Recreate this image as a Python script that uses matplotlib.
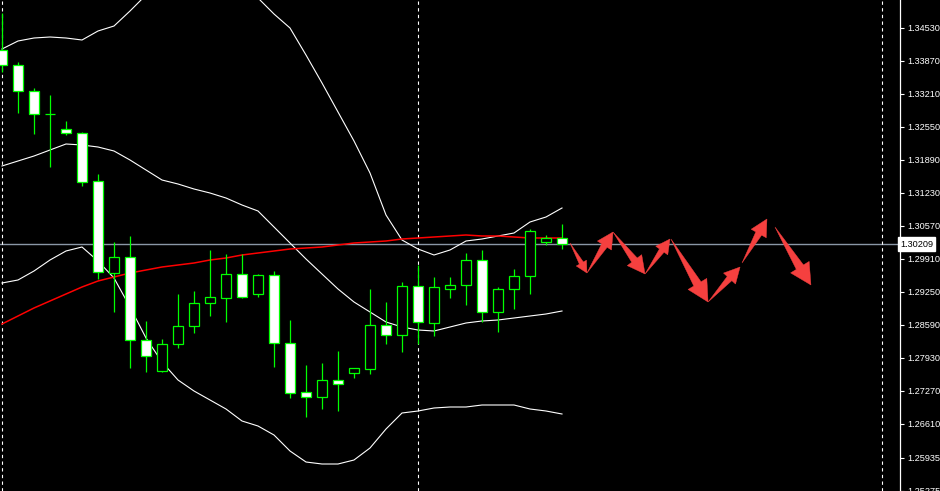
import numpy as np
import matplotlib
matplotlib.use("Agg")
import matplotlib.pyplot as plt
from matplotlib.patches import Rectangle, Polygon
import matplotlib.transforms as mtransforms

plt.rcParams['font.family'] = ['Liberation Sans', 'DejaVu Sans']

# ---------------- data ----------------
opens = [1.3409, 1.3379, 1.3327, 1.3281, 1.3251, 1.3243, 1.3147, 1.2963, 1.2995, 1.2829,
         1.2767, 1.2821, 1.2857, 1.2903, 1.2913, 1.2961, 1.2921, 1.2959, 1.2823, 1.2725,
         1.2715, 1.2749, 1.2763, 1.2771, 1.2859, 1.2839, 1.2937, 1.2863, 1.2931, 1.2939,
         1.2989, 1.2885, 1.2931, 1.2957, 1.3025, 1.3033]
highs = [1.3483, 1.3385, 1.3333, 1.3319, 1.3267, 1.3245, 1.3161, 1.3025, 1.3037, 1.2867,
         1.2831, 1.2921, 1.2927, 1.3009, 1.3001, 1.3001, 1.2961, 1.2967, 1.2869, 1.2779,
         1.2783, 1.2807, 1.2773, 1.2931, 1.2905, 1.2945, 1.2979, 1.2955, 1.2955, 1.3003,
         1.3009, 1.2935, 1.2971, 1.3051, 1.3039, 1.3061]
lows = [1.3365, 1.3283, 1.3241, 1.3175, 1.3239, 1.3137, 1.2951, 1.2885, 1.2773, 1.2765,
        1.2765, 1.2813, 1.2843, 1.2877, 1.2865, 1.2913, 1.2915, 1.2775, 1.2713, 1.2675,
        1.2691, 1.2687, 1.2753, 1.2761, 1.2821, 1.2805, 1.2821, 1.2837, 1.2913, 1.2899,
        1.2865, 1.2845, 1.2891, 1.2921, 1.3019, 1.3011]
closes = [1.3379, 1.3327, 1.3281, 1.3280, 1.3243, 1.3145, 1.2965, 1.2995, 1.2829, 1.2797,
          1.2821, 1.2857, 1.2903, 1.2915, 1.2961, 1.2915, 1.2959, 1.2823, 1.2723, 1.2715,
          1.2749, 1.2741, 1.2773, 1.2859, 1.2839, 1.2937, 1.2865, 1.2935, 1.2939, 1.2989,
          1.2885, 1.2931, 1.2957, 1.3047, 1.3033, 1.30209]

bb_upper = [1.3411, 1.3427, 1.3433, 1.3435, 1.3433, 1.3429, 1.3447, 1.3457, 1.3487, 1.3519,
            1.3529, 1.3535, 1.3539, 1.3539, 1.3535, 1.3527, 1.3513, 1.3481, 1.3453, 1.3399,
            1.3343, 1.3285, 1.3227, 1.3163, 1.3079, 1.3029, 1.3011, 1.2999, 1.3009, 1.3027,
            1.3031, 1.3037, 1.3043, 1.3065, 1.3075, 1.3093]
bb_middle = [1.3177, 1.3187, 1.3197, 1.3209, 1.3221, 1.3219, 1.3215, 1.3207, 1.3189, 1.3169,
             1.3149, 1.3141, 1.3131, 1.3123, 1.3113, 1.3099, 1.3087, 1.3055, 1.3023, 1.2991,
             1.2961, 1.2931, 1.2905, 1.2885, 1.2865, 1.2855, 1.2849, 1.2847, 1.2855, 1.2863,
             1.2867, 1.2869, 1.2873, 1.2877, 1.2881, 1.2887]
bb_lower = [1.2943, 1.2949, 1.2967, 1.2989, 1.3007, 1.3015, 1.2987, 1.2953, 1.2895, 1.2833,
            1.2785, 1.2749, 1.2727, 1.2709, 1.2691, 1.2667, 1.2657, 1.2639, 1.2607, 1.2585,
            1.2581, 1.2581, 1.2589, 1.2613, 1.2651, 1.2683, 1.2687, 1.2693, 1.2695, 1.2695,
            1.2699, 1.2699, 1.2699, 1.2691, 1.2687, 1.2681]
ma_red = [1.2861, 1.2877, 1.2893, 1.2907, 1.2921, 1.2935, 1.2947, 1.2955, 1.2963, 1.2969,
          1.2975, 1.2979, 1.2983, 1.2989, 1.2993, 1.2999, 1.3003, 1.3007, 1.3011, 1.3013,
          1.3015, 1.3019, 1.3023, 1.3025, 1.3027, 1.3031, 1.3033, 1.3035, 1.3037, 1.3039,
          1.3037, 1.3037, 1.3035, 1.3033, 1.3033, 1.3033]

separators = [0, 26, 55]
price_ticks = [1.34530, 1.33870, 1.33210, 1.32550, 1.31890, 1.31230, 1.30570, 1.29910,
               1.29250, 1.28590, 1.27930, 1.27270, 1.26610, 1.25935, 1.25275]
price_labels = ["1.34530", "1.33870", "1.33210", "1.32550", "1.31890", "1.31230", "1.30570",
                "1.29910", "1.29250", "1.28590", "1.27930", "1.27270", "1.26610", "1.25935",
                "1.25275"]
current_price = 1.30209
current_label = "1.30209"

# forecast arrows: (start bar, start price) -> (end bar, end price)
arrow_starts = [(35.5, 1.3023), (36.56, 1.2963), (38.19, 1.3045), (40.19, 1.2961),
                (41.81, 1.3031), (44.13, 1.2905), (46.25, 1.2983), (48.31, 1.3055)]
arrow_ends = [(36.56, 1.2963), (38.19, 1.3045), (40.19, 1.2961), (41.75, 1.3031),
              (44.13, 1.2905), (46.13, 1.2975), (47.81, 1.3071), (50.56, 1.2939)]

# ---------------- figure ----------------
W, H, DPI = 940, 491, 100
fig = plt.figure(figsize=(W / DPI, H / DPI), dpi=DPI, facecolor='black')
ax = fig.add_axes([0, 0, 900 / W, 1])
ax.set_facecolor('black')
ax.set_xlim(-0.125, 56.125)
ax.set_ylim(1.25270, 1.35090)

green = '#00ff00'
x = np.arange(len(opens))

# bid line
ax.axhline(current_price, color='#8a97a6', lw=1.0, zorder=1.5)

# separators
for s in separators:
    ax.axvline(s, color='white', lw=0.8, ls=(0, (3, 3)), zorder=1.6)

# indicators
for band in (bb_upper, bb_middle, bb_lower):
    ax.plot(x, band, color='white', lw=0.8, zorder=2, solid_joinstyle='miter')
ax.plot(x, ma_red, color='#ff0000', lw=1.1, zorder=2.1)

# candles
bw = 0.58
for i in range(len(opens)):
    o, h, l, c = opens[i], highs[i], lows[i], closes[i]
    ax.plot([i, i], [l, h], color=green, lw=0.9, zorder=3, solid_capstyle='butt')
    bottom = min(o, c)
    height = abs(c - o)
    fc = 'white' if c < o else 'black'
    ax.add_patch(Rectangle((i - bw / 2, bottom), bw, height, facecolor=fc,
                           edgecolor=green, lw=0.9, zorder=4))

# axis styling
for side in ('left', 'top', 'bottom'):
    ax.spines[side].set_visible(False)
ax.spines['right'].set_color('white')
ax.spines['right'].set_linewidth(0.9)
ax.set_xticks([])
ax.yaxis.tick_right()
ax.set_yticks(price_ticks)
ax.set_yticklabels(price_labels)
ax.tick_params(axis='y', colors='white', labelcolor='white', length=3, width=0.8,
               pad=2, labelsize=6.6)

# current price tag
trans = mtransforms.blended_transform_factory(ax.transAxes, ax.transData)
ax.text(1.0, current_price, current_label, transform=trans, ha='left', va='center',
        fontsize=6.6, color='black', zorder=10, clip_on=False,
        bbox=dict(boxstyle='square,pad=0.25', fc='white', ec='white'))

# arrows (built in pixel space so the shape is not distorted)
fig.canvas.draw()
T = ax.transData
inv = T.inverted()
for (sx, sy), (ex, ey) in zip(arrow_starts, arrow_ends):
    S = T.transform((sx, sy))
    E = T.transform((ex, ey))
    d = E - S
    L = np.hypot(*d)
    u = d / L
    n = np.array([-u[1], u[0]])
    hl = min(0.33 * L, 21.0)
    hw = 0.52 * hl
    sw = max(1.6, 0.2 * hl)
    B = E - u * hl
    pts_px = [S, B + n * sw, B + n * hw, E, B - n * hw, B - n * sw]
    pts = inv.transform(np.array(pts_px))
    ax.add_patch(Polygon(pts, closed=True, facecolor='#f5403f', edgecolor='#f5403f',
                         lw=0.3, zorder=6))

fig.savefig('out.png', dpi=DPI, facecolor='black')
